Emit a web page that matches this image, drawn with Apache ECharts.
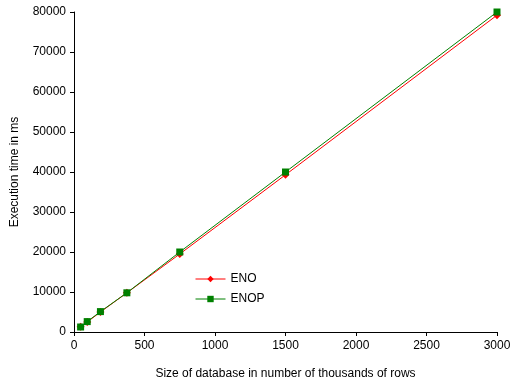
<!DOCTYPE html>
<html><head><meta charset="utf-8">
<script src="https://cdn.jsdelivr.net/npm/echarts@6/dist/echarts.min.js"></script>
<style>html,body{margin:0;padding:0;background:#fff}#c{width:510px;height:384px}</style>
</head><body><div id="c"></div>
<script>
const sizes = [46.875, 93.75, 187.5, 375, 750, 1500, 3000];
const enoValues = [1300, 2500, 5000, 9800, 19500, 39300, 79200];
const enopValues = [1250, 2600, 5100, 9800, 20000, 40000, 80000];
const seriesNames = ['ENO', 'ENOP'];

const chart = echarts.init(document.getElementById('c'));
const font = 'Arial, "Liberation Sans", sans-serif';
chart.setOption({
  animation: false,
  backgroundColor: '#fff',
  grid: { left: 74, right: 13, top: 12, bottom: 52, containLabel: false, outerBoundsMode: 'none' },
  legend: {
    orient: 'vertical', left: 190, top: 268, itemGap: 8,
    itemWidth: 30, itemHeight: 8,
    lineStyle: { width: 1 },
    textStyle: { fontFamily: font, fontSize: 12, color: '#000' },
    data: seriesNames
  },
  xAxis: {
    type: 'value', min: 0, max: 3000, interval: 500,
    name: 'Size of database in number of thousands of rows',
    nameLocation: 'middle', nameGap: 36,
    nameTextStyle: { fontFamily: font, fontSize: 12, color: '#000' },
    axisLine: { lineStyle: { color: '#000' } },
    axisTick: { lineStyle: { color: '#000' }, length: 4 },
    axisLabel: { fontFamily: font, fontSize: 12, color: '#000', margin: 8, formatter: v => String(v) },
    splitLine: { show: false }
  },
  yAxis: {
    type: 'value', min: 0, max: 80000, interval: 10000,
    name: 'Execution time in ms',
    nameLocation: 'middle', nameGap: 53, nameRotate: 90,
    nameTextStyle: { fontFamily: font, fontSize: 12, color: '#000' },
    axisLine: { show: true, lineStyle: { color: '#000' } },
    axisTick: { show: true, lineStyle: { color: '#000' }, length: 4 },
    axisLabel: { fontFamily: font, fontSize: 12, color: '#000', margin: 8, formatter: v => String(v) },
    splitLine: { show: false }
  },
  series: [
    {
      name: seriesNames[0], type: 'line',
      data: sizes.map((x, i) => [x, enoValues[i]]),
      symbol: 'diamond', symbolSize: 8,
      lineStyle: { color: '#ff0000', width: 1 },
      itemStyle: { color: '#ff0000' }
    },
    {
      name: seriesNames[1], type: 'line',
      data: sizes.map((x, i) => [x, enopValues[i]]),
      symbol: 'rect', symbolSize: 7,
      lineStyle: { color: '#008000', width: 1 },
      itemStyle: { color: '#008000' }
    }
  ]
});
</script></body></html>
